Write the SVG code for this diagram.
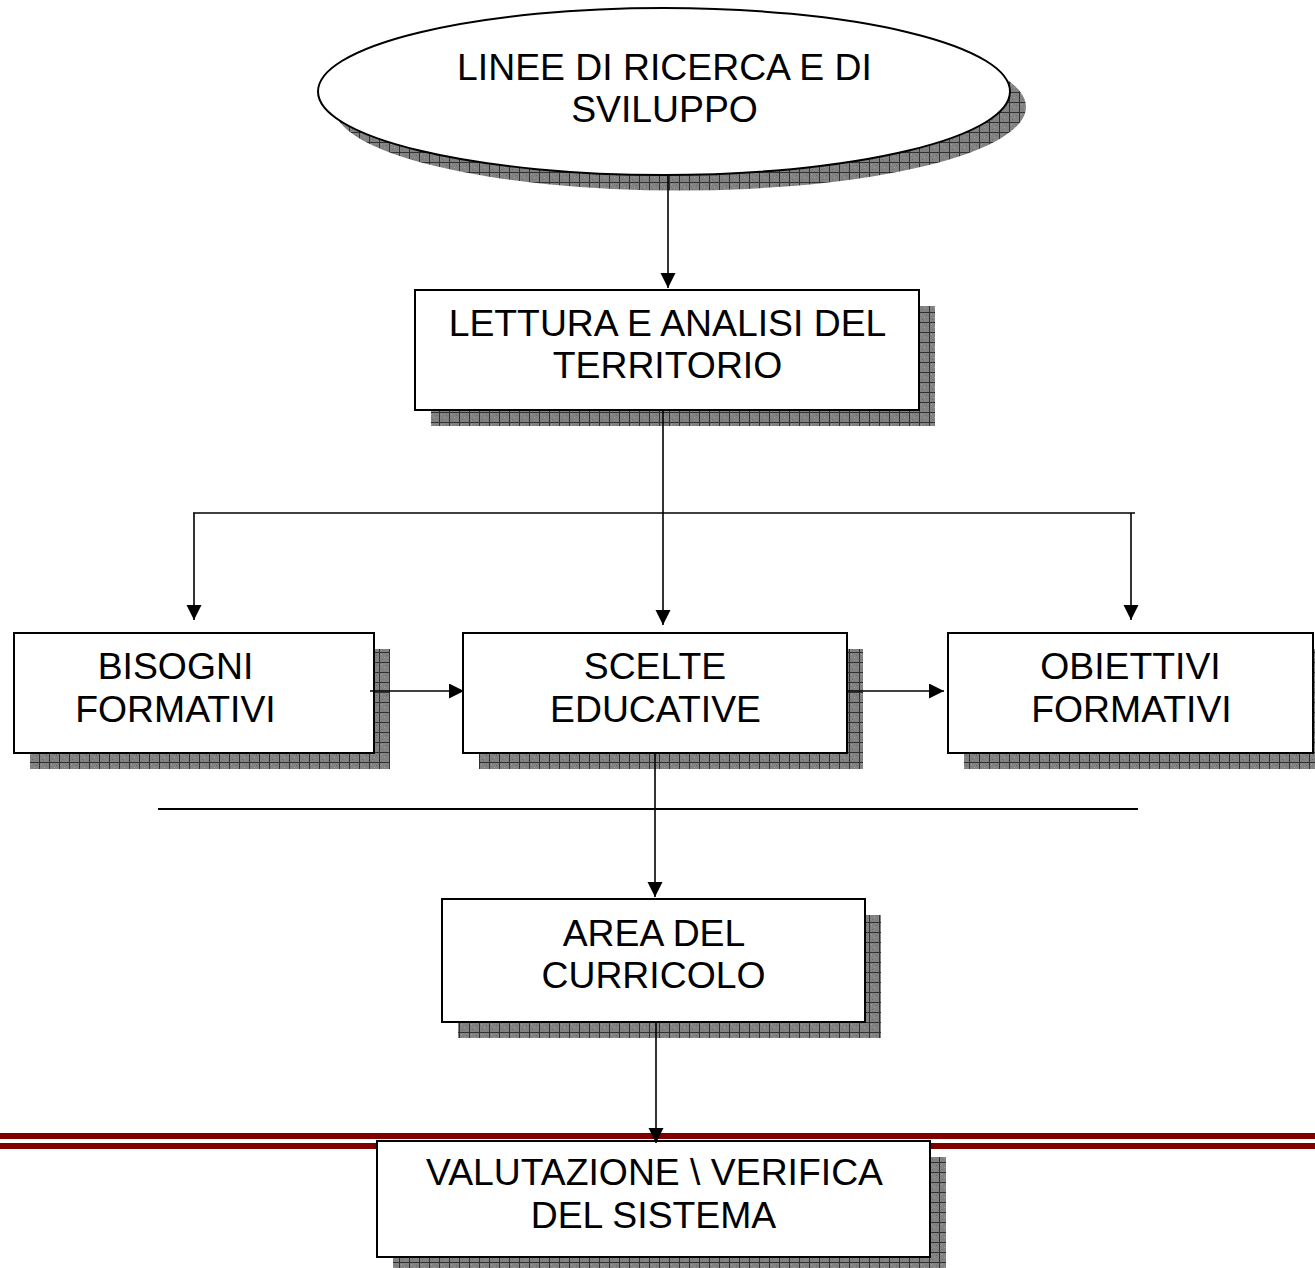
<svg xmlns="http://www.w3.org/2000/svg" width="1315" height="1268" viewBox="0 0 1315 1268">
<defs>
<pattern id="grid" patternUnits="userSpaceOnUse" x="9" y="2" width="10" height="10">
<rect width="10" height="10" fill="#828282"/>
<rect x="2" y="2" width="1" height="1" fill="#a0a0a0"/>
<rect x="5" y="5" width="1" height="1" fill="#a0a0a0"/>
<rect x="7" y="3" width="1" height="1" fill="#686868"/>
<rect x="3" y="7" width="1" height="1" fill="#686868"/>
<rect x="0" y="0" width="1" height="10" fill="#303030"/>
<rect x="0" y="0" width="10" height="1" fill="#303030"/>
</pattern>
<marker id="arr" markerUnits="userSpaceOnUse" markerWidth="16" markerHeight="16" refX="15" refY="7.5" orient="auto">
<path d="M0,0 L15,7.5 L0,15 Z" fill="#000"/>
</marker>
</defs>
<style>
.shadow{fill:url(#grid);stroke:none}
.box{fill:#fff;stroke:#000;stroke-width:2}
.lbl{font-family:"Liberation Sans",Arial,sans-serif;font-size:37.33px;fill:#000;text-anchor:middle}
.con{fill:none;stroke:#000;stroke-width:1.6}
.red{fill:#800000}
</style>
<rect width="1315" height="1268" fill="#fff"/>
<g id="rule">
<rect class="red" x="0" y="1133" width="1315" height="6"/>
<rect class="red" x="0" y="1143" width="1315" height="6"/>
</g>
<g id="n-linee">
<ellipse class="shadow" cx="680" cy="107" rx="346" ry="83.5"/>
<ellipse class="box" cx="664" cy="91.5" rx="346" ry="83.5"/>
<text class="lbl" x="664.5" y="80">LINEE DI RICERCA E DI</text>
<text class="lbl" x="664.5" y="122">SVILUPPO</text>
</g>
<g id="n-lettura">
<rect class="shadow" x="431" y="306" width="504" height="120"/>
<rect class="box" x="415" y="290" width="504" height="120"/>
<text class="lbl" x="667.5" y="336">LETTURA E ANALISI DEL</text>
<text class="lbl" x="667.5" y="378">TERRITORIO</text>
</g>
<g id="n-bisogni">
<rect class="shadow" x="30" y="649" width="360" height="120"/>
<rect class="box" x="14" y="633" width="360" height="120"/>
<text class="lbl" x="175.5" y="679">BISOGNI</text>
<text class="lbl" x="175.5" y="722">FORMATIVI</text>
</g>
<g id="n-scelte">
<rect class="shadow" x="479" y="649" width="384" height="120"/>
<rect class="box" x="463" y="633" width="384" height="120"/>
<text class="lbl" x="655" y="679">SCELTE</text>
<text class="lbl" x="655.5" y="722">EDUCATIVE</text>
</g>
<g id="n-obiettivi">
<rect class="shadow" x="964" y="649" width="365" height="120"/>
<rect class="box" x="948" y="633" width="365" height="120"/>
<text class="lbl" x="1130.5" y="679">OBIETTIVI</text>
<text class="lbl" x="1131.5" y="722">FORMATIVI</text>
</g>
<g id="n-area">
<rect class="shadow" x="458" y="915" width="423" height="123"/>
<rect class="box" x="442" y="899" width="423" height="123"/>
<text class="lbl" x="654" y="946">AREA DEL</text>
<text class="lbl" x="653.5" y="988">CURRICOLO</text>
</g>
<g id="n-valutazione">
<rect class="shadow" x="393" y="1157" width="553" height="116"/>
<rect class="box" x="377" y="1141" width="553" height="116"/>
<text class="lbl" x="654.5" y="1185">VALUTAZIONE \ VERIFICA</text>
<text class="lbl" x="653.5" y="1228">DEL SISTEMA</text>
</g>
<g id="connectors">
<line class="con" x1="668" y1="175" x2="668" y2="288" marker-end="url(#arr)"/>
<line class="con" x1="663" y1="410" x2="663" y2="625" marker-end="url(#arr)"/>
<line class="con" x1="193" y1="513" x2="1135" y2="513"/>
<line class="con" x1="194" y1="513" x2="194" y2="620" marker-end="url(#arr)"/>
<line class="con" x1="1131" y1="513" x2="1131" y2="620" marker-end="url(#arr)"/>
<line class="con" x1="370" y1="691" x2="464" y2="691" marker-end="url(#arr)"/>
<line class="con" x1="847" y1="691" x2="944" y2="691" marker-end="url(#arr)"/>
<line class="con" x1="158" y1="809" x2="1138" y2="809" style="stroke-width:2"/>
<line class="con" x1="655" y1="753" x2="655" y2="897" marker-end="url(#arr)"/>
<line class="con" x1="656" y1="1022" x2="656" y2="1143" marker-end="url(#arr)"/>
</g>
</svg>
